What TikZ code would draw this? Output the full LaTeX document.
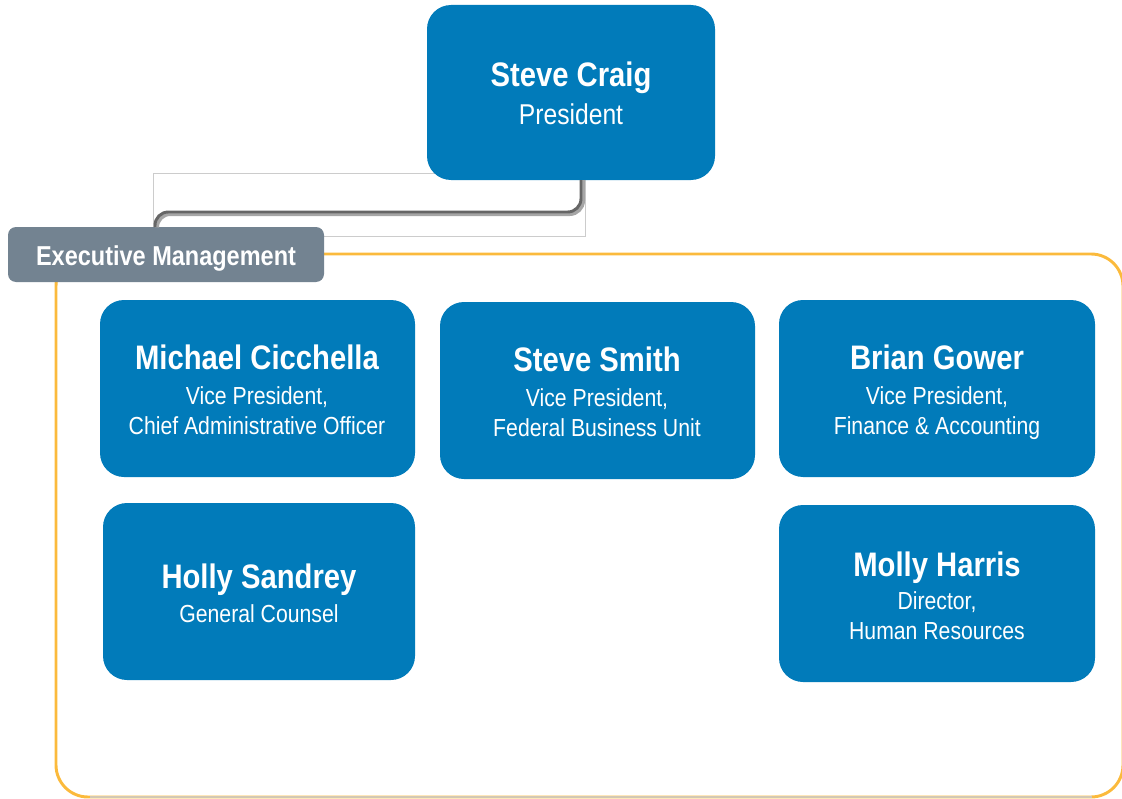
\documentclass[tikz,border=0pt]{standalone}
\usepackage{fontspec}
\setmainfont{Liberation Sans}[FakeStretch=0.86]
\definecolor{boxblue}{HTML}{017BBA}
\definecolor{labgray}{HTML}{738391}
\definecolor{frameorange}{HTML}{FBBA3C}
\definecolor{framebeige}{HTML}{D2C8B4}
\definecolor{linegray}{HTML}{666666}
\tikzset{
  personbox/.style={fill=boxblue, rounded corners=18pt},
  nm/.style={text=white, anchor=base, inner sep=0pt, font=\fontsize{25.5}{28}\selectfont\bfseries},
  sub/.style={text=white, anchor=base, inner sep=0pt, font=\fontsize{18.5}{22}\selectfont},
}
\begin{document}
\begin{tikzpicture}[x=0.75pt,y=-0.75pt]
\useasboundingbox (0,0) rectangle (1122,799);
\begin{scope}
\clip (0,0) rectangle (1122,799);
% thin gray frame around connector
\draw[black!20, line width=0.6pt] (153,173) rectangle (585,236);
% orange frame
\draw[frameorange, line width=2.2pt, rounded corners=24pt] (56,254) rectangle (1123,797);
\draw[framebeige, line width=1.6pt] (90,797.3) -- (1092,797.3);
\end{scope}
% president
\path[personbox] (427,5) rectangle (715,180);
\node[text=white, anchor=base, inner sep=0pt, font=\fontsize{25.5}{28}\selectfont\bfseries] (pres) at (571,87) {Steve Craig};
\node[text=white, anchor=base, inner sep=0pt, font=\fontsize{21.5}{24}\selectfont] (prest) at (571,125) {President};
\coordinate (pb) at (581,180);
% exec label
\path[fill=labgray, rounded corners=6pt] (8,227) rectangle (324,282);
\node[text=white, anchor=base, inner sep=0pt, font=\fontsize{20.5}{24}\selectfont\bfseries] (exec) at (166,265) {Executive Management};
\coordinate (et) at (155,227);
% connector
\draw[black!35, line width=3pt, rounded corners=10pt] ([xshift=1.5pt]pb) |- ([xshift=1.5pt,yshift=-1.5pt]et |- 0,212) -- ([xshift=1.5pt]et);
\draw[linegray, line width=2.2pt, rounded corners=10pt] (pb) |- (et |- 0,212) -- (et);
% Michael Cicchella
\path[personbox] (100,300) rectangle (415,477);
\node[nm] (mc) at (257,369) {Michael Cicchella};
\node[sub] (mc1) at (257,404) {Vice President,};
\node[sub] (mc2) at (257,434) {Chief Administrative Officer};
% Steve Smith
\path[personbox] (440,302) rectangle (755,479);
\node[nm] (ss) at (597,371) {Steve Smith};
\node[sub] (ss1) at (597,406) {Vice President,};
\node[sub] (ss2) at (597,436) {Federal Business Unit};
% Brian Gower
\path[personbox] (779,300) rectangle (1095,477);
\node[nm] (bg) at (937,369) {Brian Gower};
\node[sub] (bg1) at (937,404) {Vice President,};
\node[sub] (bg2) at (937,434) {Finance \& Accounting};
% Holly Sandrey
\path[personbox] (103,503) rectangle (415,680);
\node[nm] (hs) at (259,588) {Holly Sandrey};
\node[sub] (hs1) at (259,622) {General Counsel};
% Molly Harris
\path[personbox] (779,505) rectangle (1095,682);
\node[nm] (mh) at (937,576) {Molly Harris};
\node[sub] (mh1) at (937,609) {Director,};
\node[sub] (mh2) at (937,639) {Human Resources};
\end{tikzpicture}
\end{document}
